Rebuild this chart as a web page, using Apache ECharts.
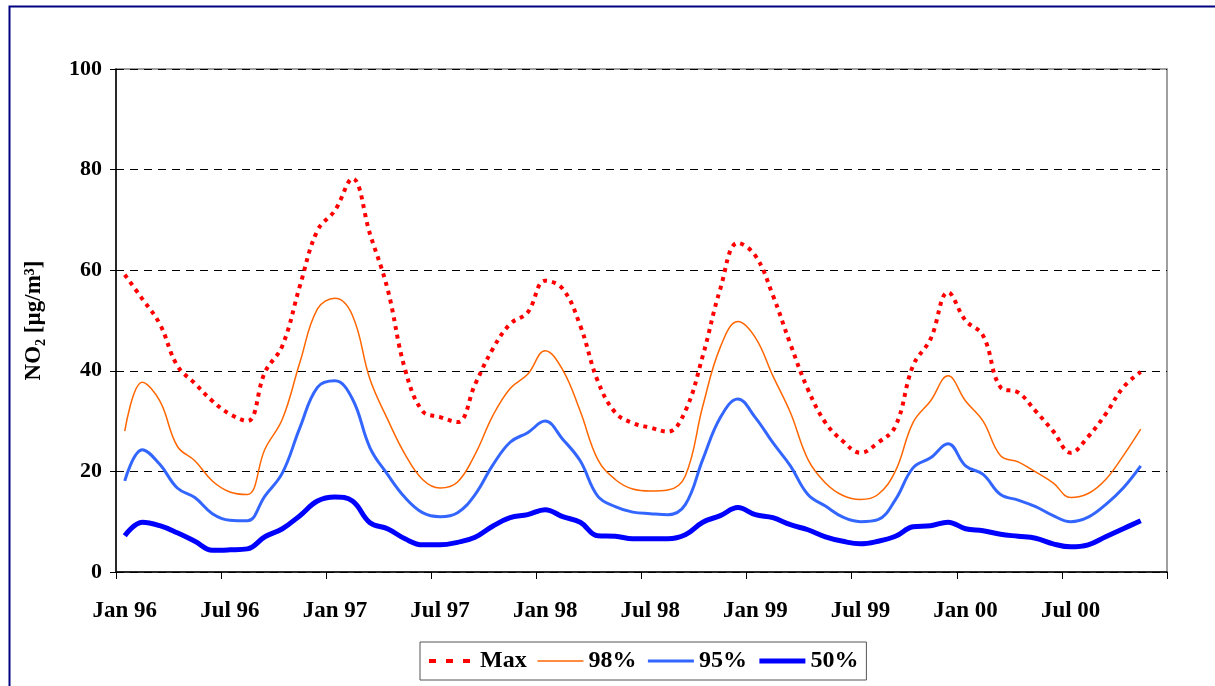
<!DOCTYPE html>
<html><head><meta charset="utf-8">
<script src="https://cdn.jsdelivr.net/npm/echarts@6/dist/echarts.min.js"></script>
<style>html,body{margin:0;padding:0;background:#fff}#c{width:1215px;height:686px}</style>
</head><body><div id="c"></div>
<script>
const monthNames = ['Jan','Feb','Mar','Apr','May','Jun','Jul','Aug','Sep','Oct','Nov','Dec'];
const years = ['96','97','98','99','00'];
const categories = [];
years.forEach(y => monthNames.forEach(m => categories.push(m + ' ' + y)));
const tickLabels = ['Jan 96','Jul 96','Jan 97','Jul 97','Jan 98','Jul 98','Jan 99','Jul 99','Jan 00','Jul 00'];
const yTicks = [0, 20, 40, 60, 80, 100];

const maxValues = [59.1,54.3,49.3,41.0,37.5,34.0,31.4,30.0,39.7,45.0,
  56.9,67.9,71.9,78.2,67.2,56.3,40.3,32.0,30.8,29.8,
  37.3,44.3,49.3,51.6,57.9,56.3,49.0,38.0,31.7,29.6,
  28.7,27.9,32.0,43.0,56.3,65.4,62.9,55.0,45.3,36.3,
  29.7,26.0,23.7,25.7,29.0,41.0,46.3,55.6,50.0,47.0,
  36.7,35.7,32.0,28.0,23.7,26.9,31.4,36.7,39.8];
const p98Values = [28.0,37.7,34.0,25.0,22.1,18.1,15.9,15.4,24.4,30.4,
  41.7,52.3,54.4,51.0,38.3,30.4,23.4,18.4,16.7,17.9,
  23.4,31.0,36.5,39.3,44.0,40.2,32.0,22.4,18.4,16.5,
  16.1,16.3,19.1,33.0,44.7,49.8,46.6,39.0,31.7,22.4,
  17.7,15.2,14.4,15.4,20.1,29.7,34.0,39.0,34.0,30.0,
  23.1,21.9,19.9,17.7,14.8,15.6,18.4,23.1,28.4];
const p95Values = [18.1,24.3,21.4,16.7,14.8,11.6,10.3,10.2,15.1,19.7,
  28.7,36.7,38.0,34.4,24.7,19.4,14.8,11.8,11.0,11.8,
  15.4,21.2,25.8,27.7,30.0,26.4,22.1,15.1,13.0,11.9,
  11.6,11.4,13.4,22.4,30.7,34.4,30.7,25.7,21.1,15.4,
  13.1,10.9,10.0,10.4,14.4,20.7,22.7,25.5,21.1,19.4,
  15.4,14.3,13.0,11.2,10.0,10.9,13.4,16.7,21.1];
const p50Values = [7.2,9.9,9.2,7.8,6.1,4.3,4.4,4.6,7.0,8.6,
  11.2,14.1,14.9,14.1,9.8,8.6,6.6,5.4,5.4,5.9,
  6.9,9.1,10.8,11.4,12.4,11.0,9.9,7.2,7.1,6.6,
  6.6,6.6,7.4,9.9,11.2,12.8,11.4,10.8,9.4,8.4,
  7.0,6.1,5.6,6.1,7.1,9.0,9.2,9.9,8.6,8.2,
  7.5,7.1,6.7,5.6,5.0,5.4,7.0,8.6,10.2];
const seriesNames = ['Max','98%','95%','50%'];

const FONT = '"Liberation Serif", "Times New Roman", serif';
const chart = echarts.init(document.getElementById('c'), null, {renderer: 'canvas'});
function mk(name, data, color, width, type) {
  return {
    name: name, type: 'line', data: data, smooth: 0.4, symbol: 'none', showSymbol: false,
    lineStyle: {color: color, width: width, type: type, cap: 'butt'},
    itemStyle: {color: color}, emphasis: {disabled: true}, animation: false
  };
}
chart.setOption({
  animation: false,
  backgroundColor: '#ffffff',
  graphic: [{
    type: 'rect', left: 7, top: 4, silent: true,
    shape: {width: 1400, height: 900},
    style: {fill: 'none', stroke: '#000080', lineWidth: 2}
  }],
  grid: {left: 116, right: 48, top: 69, bottom: 114, show: true, borderColor: '#808080', borderWidth: 1.5},
  legend: {
    left: 420, top: 642, orient: 'horizontal',
    data: [
      {name: seriesNames[0], lineStyle: {width: 4, type: [7, 10], color: '#ff0000'}},
      {name: seriesNames[1], lineStyle: {width: 1.5, color: '#ff6600'}},
      {name: seriesNames[2], lineStyle: {width: 3, color: '#3366ff'}},
      {name: seriesNames[3], lineStyle: {width: 5, color: '#0000ff'}}
    ],
    itemWidth: 46, itemHeight: 14, itemGap: 10,
    padding: [7, 8, 7, 7],
    itemStyle: {opacity: 0, borderWidth: 0},
    borderColor: '#555', borderWidth: 1, backgroundColor: '#fff',
    textStyle: {fontFamily: FONT, fontWeight: 'bold', fontSize: 24, color: '#000'}
  },
  xAxis: {
    type: 'category', data: categories, boundaryGap: true,
    axisLine: {lineStyle: {color: '#000', width: 1.5}},
    axisTick: {show: true, interval: 5, length: 7, lineStyle: {color: '#000', width: 1}},
    axisLabel: {
      interval: (i, v) => tickLabels.indexOf(v) >= 0,
      margin: 28, fontFamily: FONT, fontWeight: 'bold', fontSize: 23, color: '#000'
    },
    splitLine: {show: false}
  },
  yAxis: {
    type: 'value', min: yTicks[0], max: yTicks[yTicks.length - 1], interval: 20,
    name: '{a|NO}{b|2}{a| [µg/m³]}', nameLocation: 'middle', nameGap: 68,
    nameTextStyle: {
      rich: {
        a: {fontFamily: FONT, fontWeight: 'bold', fontSize: 23, color: '#000', lineHeight: 27, verticalAlign: 'middle'},
        b: {fontFamily: FONT, fontWeight: 'bold', fontSize: 14, color: '#000', lineHeight: 27, verticalAlign: 'bottom'}
      }
    },
    axisLine: {show: true, lineStyle: {color: '#000', width: 1.5}},
    axisTick: {show: true, length: 6, lineStyle: {color: '#000', width: 1}},
    axisLabel: {margin: 14, fontFamily: FONT, fontWeight: 'bold', fontSize: 22, color: '#000'},
    splitLine: {show: true, lineStyle: {color: '#000', width: 1, type: [8, 6]}}
  },
  series: [
    mk('Max', maxValues, '#ff0000', 4, [4, 5]),
    mk('98%', p98Values, '#ff6600', 1.5, 'solid'),
    mk('95%', p95Values, '#3366ff', 3, 'solid'),
    mk('50%', p50Values, '#0000ff', 5, 'solid')
  ]
});
</script>
</body></html>
